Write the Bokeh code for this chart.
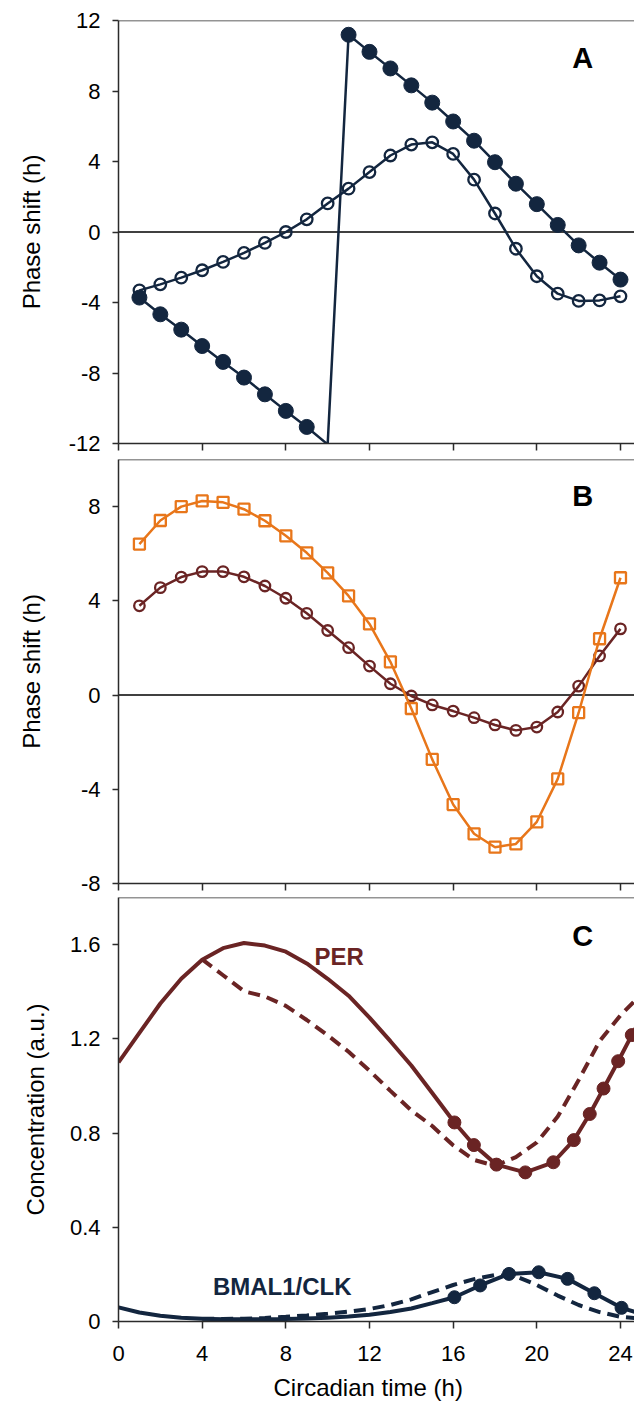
from bokeh.plotting import figure
from bokeh.layouts import column
from bokeh.models import (Range1d, FixedTicker, Span, Label, Title, NumeralTickFormatter,
                          PrintfTickFormatter)
from bokeh.embed import file_html
from bokeh.resources import INLINE

# ---------------- data ----------------
hours = list(range(1, 25))
x_ticks = [0, 4, 8, 12, 16, 20, 24]

# Panel A: phase shift (h)
a_filled = [-3.72, -4.67, -5.54, -6.47, -7.37, -8.26, -9.21, -10.15, -11.06, -12.05,
            11.19, 10.22, 9.28, 8.32, 7.34, 6.27, 5.18, 3.96, 2.74, 1.58, 0.40,
            -0.76, -1.74, -2.70]
a_open = [-3.31, -2.97, -2.59, -2.17, -1.70, -1.19, -0.62, 0.00, 0.72, 1.62,
          2.46, 3.40, 4.34, 4.96, 5.09, 4.43, 2.97, 1.05, -0.95, -2.51,
          -3.50, -3.91, -3.88, -3.65]
a_ticks = [-12, -8, -4, 0, 4, 8, 12]

# Panel B: phase shift (h)
b_orange = [6.41, 7.41, 8.00, 8.24, 8.18, 7.89, 7.40, 6.76, 6.04, 5.19, 4.21, 3.02,
            1.41, -0.57, -2.73, -4.65, -5.89, -6.46, -6.32, -5.38, -3.56, -0.75,
            2.39, 4.98]
b_maroon = [3.79, 4.56, 5.01, 5.24, 5.24, 5.02, 4.63, 4.11, 3.47, 2.74, 2.01, 1.23,
            0.48, -0.04, -0.42, -0.68, -0.96, -1.27, -1.50, -1.36, -0.72, 0.38,
            1.66, 2.81]
b_ticks = [-8, -4, 0, 4, 8]

# Panel C: concentration (a.u.)
per_line_t = [0, 1, 2, 3, 4, 5, 6, 7, 8, 9, 10, 11, 12, 13, 14, 15]
per_line_v = [1.10, 1.225, 1.35, 1.455, 1.536, 1.585, 1.607, 1.596, 1.57, 1.52,
              1.455, 1.383, 1.29, 1.19, 1.087, 0.97]
per_mark_t = [16.06, 16.99, 18.07, 19.45, 20.79, 21.77, 22.53, 23.19, 23.89, 24.54, 25.2]
per_mark_v = [0.845, 0.749, 0.666, 0.633, 0.676, 0.770, 0.881, 0.989, 1.105, 1.216, 1.32]
per_dash_t = [4, 5, 6, 7, 8, 9, 10, 11, 12, 13, 14, 15, 16, 17, 18, 19, 20, 21, 22, 23, 24, 25]
per_dash_v = [1.537, 1.47, 1.402, 1.38, 1.34, 1.28, 1.215, 1.145, 1.065, 0.979, 0.896,
              0.83, 0.748, 0.686, 0.661, 0.698, 0.76, 0.87, 1.025, 1.19, 1.30, 1.39]

bmal_line_t = [0, 1, 2, 3, 4, 5, 6, 7, 8, 9, 10, 11, 12, 13, 14, 15]
bmal_line_v = [0.06, 0.038, 0.024, 0.016, 0.012, 0.010, 0.010, 0.010, 0.011, 0.013,
               0.016, 0.021, 0.029, 0.040, 0.055, 0.078]
bmal_mark_t = [16.06, 17.29, 18.67, 20.09, 21.47, 22.75, 24.05, 25.3]
bmal_mark_v = [0.103, 0.153, 0.202, 0.209, 0.181, 0.120, 0.058, 0.025]
bmal_dash_t = [4, 5, 6, 7, 8, 9, 10, 11, 12, 13, 14, 15, 16, 17, 18, 19, 20, 21, 22, 23, 24, 25]
bmal_dash_v = [0.012, 0.011, 0.012, 0.015, 0.020, 0.026, 0.033, 0.042, 0.053, 0.070, 0.094,
               0.125, 0.155, 0.180, 0.197, 0.192, 0.155, 0.110, 0.070, 0.040, 0.020, 0.012]
c_ticks = [0, 0.4, 0.8, 1.2, 1.6]

# ---------------- style ----------------
FONT = "Liberation Sans"
NAVY = "#13263f"
MAROON = "#6a2424"
ORANGE = "#e8761a"
AXIS = "#2b2b2b"
XMAX = 24.67
FRAME_W = 516


def make_fig(y0, y1, yticks, frame_h, top, bottom, ylab, ylab_standoff, show_xlabels):
    p = figure(frame_width=FRAME_W, frame_height=frame_h,
               x_range=Range1d(0, XMAX), y_range=Range1d(y0, y1),
               output_backend="svg", toolbar_location=None,
               min_border_left=118, min_border_right=0,
               min_border_top=top, min_border_bottom=bottom)
    p.outline_line_color = None
    p.xgrid.visible = False
    p.ygrid.visible = False
    for ax in (p.xaxis[0], p.yaxis[0]):
        ax.axis_line_color = AXIS
        ax.axis_line_width = 1.5
        ax.major_tick_line_color = AXIS
        ax.major_tick_line_width = 1.5
        ax.major_tick_in = 0
        ax.minor_tick_line_color = None
        ax.major_label_text_font = FONT
        ax.major_label_text_font_size = "22px"
        ax.major_label_text_color = "black"
    p.xaxis.ticker = FixedTicker(ticks=x_ticks)
    p.xaxis.major_tick_out = 7
    if show_xlabels:
        p.xaxis.major_label_standoff = 17
    else:
        p.xaxis.major_label_text_font_size = "1px"
        p.xaxis.major_label_text_color = None
        p.xaxis.major_label_standoff = 0
    p.yaxis.ticker = FixedTicker(ticks=yticks)
    p.yaxis.formatter = PrintfTickFormatter(format="%d")
    p.yaxis.major_tick_out = 6
    p.yaxis.major_label_standoff = 12
    p.yaxis.axis_label = ylab
    p.yaxis.axis_label_text_font = FONT
    p.yaxis.axis_label_text_font_size = "24px"
    p.yaxis.axis_label_text_font_style = "normal"
    p.yaxis.axis_label_text_color = "black"
    p.yaxis.axis_label_standoff = ylab_standoff
    p.add_layout(Span(location=y1, dimension="width", line_color=AXIS, line_width=1.5))
    return p


def letter(p, txt, x, y):
    p.add_layout(Label(x=x, y=y, text=txt, text_font=FONT, text_font_size="29px",
                       text_font_style="bold", text_color="black",
                       text_align="center", text_baseline="middle"))


# ---------------- panel A ----------------
pa = make_fig(-12, 12, a_ticks, 423, 20, 15, "Phase shift (h)", 21, False)
pa.add_layout(Span(location=0, dimension="width", line_color="black", line_width=1.5, level="underlay"))
pa.line(hours, a_open, line_color=NAVY, line_width=2.5)
pa.scatter(hours, a_open, marker="circle", size=11.5, line_color=NAVY, line_width=2.3,
           fill_color=None)
pa.line(hours, a_filled, line_color=NAVY, line_width=2.5)
af_x = [h for h, v in zip(hours, a_filled) if -12 < v <= 12]
af_y = [v for v in a_filled if -12 < v <= 12]
pa.scatter(af_x, af_y, marker="circle", size=15, line_color=NAVY, fill_color=NAVY)
letter(pa, "A", 22.2, 9.9)

# ---------------- panel B ----------------
pb = make_fig(-8, 10, b_ticks, 424, 1, 13, "Phase shift (h)", 33, False)
pb.add_layout(Span(location=0, dimension="width", line_color="black", line_width=1.5, level="underlay"))
pb.line(hours, b_maroon, line_color=MAROON, line_width=2.5)
pb.scatter(hours, b_maroon, marker="circle", size=10.5, line_color=MAROON, line_width=2.3,
           fill_color=None)
pb.line(hours, b_orange, line_color=ORANGE, line_width=2.5)
pb.scatter(hours, b_orange, marker="square", size=11, line_color=ORANGE, line_width=2.3,
           fill_color=None)
letter(pb, "B", 22.2, 8.45)

# ---------------- panel C ----------------
pc = make_fig(0, 1.8, c_ticks, 424, 1, 20, "Concentration (a.u.)", 18, True)
pc.yaxis.formatter = NumeralTickFormatter(format="0.[0]")
pc.add_layout(Title(text="Circadian time (h)", align="left", offset=155, text_font=FONT,
                    text_font_size="24px", text_font_style="normal", text_color="black",
                    standoff=16), "below")

pc.line(per_dash_t, per_dash_v, line_color=MAROON, line_width=4, line_dash="12 7")
pc.line(per_line_t + per_mark_t, per_line_v + per_mark_v, line_color=MAROON, line_width=4)
pc.scatter(per_mark_t, per_mark_v, marker="circle", size=13, line_color=MAROON, fill_color=MAROON)

pc.line(bmal_dash_t, bmal_dash_v, line_color=NAVY, line_width=4, line_dash="12 7")
pc.line(bmal_line_t + bmal_mark_t, bmal_line_v + bmal_mark_v, line_color=NAVY, line_width=4)
pc.scatter(bmal_mark_t, bmal_mark_v, marker="circle", size=13, line_color=NAVY, fill_color=NAVY)

letter(pc, "C", 22.2, 1.636)
pc.add_layout(Label(x=10.55, y=1.551, text="PER", text_font=FONT, text_font_size="24px",
                    text_font_style="bold", text_color=MAROON,
                    text_align="center", text_baseline="middle"))
pc.add_layout(Label(x=7.83, y=0.148, text="BMAL1/CLK", text_font=FONT, text_font_size="24px",
                    text_font_style="bold", text_color=NAVY,
                    text_align="center", text_baseline="middle"))

layout = column(pa, pb, pc, spacing=0)
open("out.html", "w").write(file_html(layout, INLINE))
